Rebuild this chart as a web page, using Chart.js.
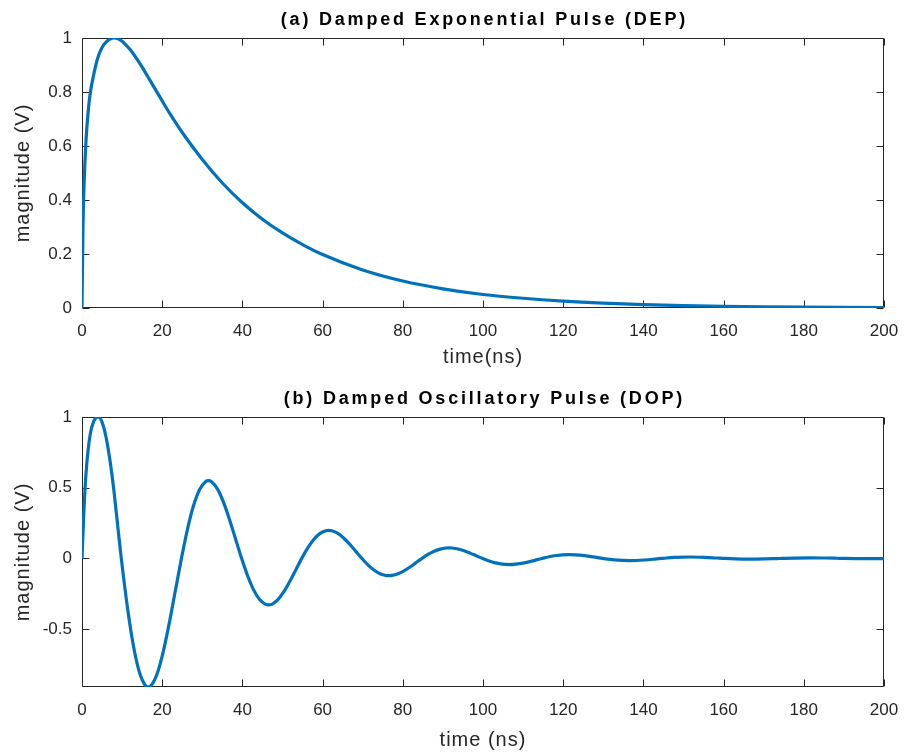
<!DOCTYPE html>
<html>
<head>
<meta charset="utf-8">
<script src="https://cdn.jsdelivr.net/npm/chart.js@4.4.0/dist/chart.umd.min.js"></script>
<style>
  body { margin: 0; background: #fff; }
  .panel { position: absolute; left: 0; width: 904px; }
  #panelA { top: 0; height: 379px; }
  #panelB { top: 379px; height: 374px; }
</style>
</head>
<body>
<div class="panel" id="panelA"><canvas id="dep"></canvas></div>
<div class="panel" id="panelB"><canvas id="dop"></canvas></div>
<script>
// tick labels
const xTicks = [0, 20, 40, 60, 80, 100, 120, 140, 160, 180, 200];
const yTicksA = [0, 0.2, 0.4, 0.6, 0.8, 1];
const yTicksB = [-0.5, 0, 0.5, 1];

// (a) Damped Exponential Pulse
const timeA = [0, 0.25, 0.5, 1, 1.5, 2, 3, 4, 5, 6, 7, 8, 9, 10, 11, 12, 13, 14, 15,
  16, 17, 18, 19, 20, 22, 25, 30, 35, 40, 45, 50, 55, 60, 70, 80, 90, 100, 110, 120,
  130, 140, 150, 160, 170, 180, 190, 200];
const magA = [0, 0.3, 0.45, 0.62, 0.72, 0.79, 0.87, 0.93, 0.965, 0.985, 0.996, 1.0,
  0.997, 0.988, 0.974, 0.957, 0.937, 0.915, 0.892, 0.867, 0.842, 0.817, 0.792, 0.767,
  0.718, 0.65, 0.55, 0.463, 0.39, 0.329, 0.278, 0.235, 0.198, 0.141, 0.1, 0.071, 0.05,
  0.036, 0.0255, 0.018, 0.0128, 0.0091, 0.0065, 0.0046, 0.0033, 0.0023, 0.0017];

// (b) Damped Oscillatory Pulse
const timeB = [0, 0.5, 1, 2, 3, 4, 5, 6, 7, 8, 9,
  9.8, 11.3, 12.8, 14.3, 15.8, 16.55, 17.3, 18.8, 20.3, 21.8, 23.3,
  24.8, 26.3, 27.8, 29.3, 30.8, 31.55, 32.3, 33.8, 35.3, 36.8, 38.3,
  39.8, 41.3, 42.8, 44.3, 45.8, 46.55, 47.3, 48.8, 50.3, 51.8, 53.3,
  54.8, 56.3, 57.8, 59.3, 60.8, 61.55, 62.3, 63.8, 65.3, 66.8, 68.3,
  69.8, 71.3, 72.8, 74.3, 75.8, 76.55, 77.3, 78.8, 80.3, 81.8, 83.3,
  84.8, 86.3, 87.8, 89.3, 90.8, 91.55, 92.3, 93.8, 95.3, 96.8, 98.3,
  99.8, 102.8, 106.55, 110.3, 113.3,
  114.8, 117.8, 121.55, 125.3, 128.3,
  129.8, 132.8, 136.55, 140.3, 143.3,
  144.8, 147.8, 151.55, 155.3, 158.3,
  159.8, 162.8, 166.55, 170.3, 173.3,
  174.8, 177.8, 181.55, 185.3, 188.3,
  189.8, 192.8, 196.55, 200];
const magB = [0, 0.35, 0.6, 0.87, 0.975, 1.0, 0.964, 0.857, 0.688, 0.469, 0.205,
  0, -0.34, -0.615, -0.804, -0.899, -0.91, -0.898, -0.811, -0.656, -0.453, -0.226,
  0, 0.2055, 0.3716, 0.4858, 0.5427, 0.5495, 0.5422, 0.4899, 0.3961, 0.2736, 0.1366,
  0, -0.1233, -0.223, -0.2915, -0.3256, -0.3297, -0.3253, -0.294, -0.2376, -0.1641, -0.0819,
  0, 0.074, 0.1338, 0.1749, 0.1954, 0.1978, 0.1952, 0.1764, 0.1426, 0.0985, 0.0492,
  0, -0.0458, -0.0828, -0.1083, -0.1209, -0.1225, -0.1208, -0.1092, -0.0883, -0.061, -0.0304,
  0, 0.0277, 0.0502, 0.0656, 0.0733, 0.0742, 0.0732, 0.0661, 0.0535, 0.0369, 0.0184,
  0, -0.03, -0.0444, -0.032, -0.011,
  0, 0.0183, 0.0271, 0.0195, 0.0067,
  0, -0.0109, -0.0161, -0.0116, -0.004,
  0, 0.0065, 0.0097, 0.007, 0.0024,
  0, -0.0039, -0.0058, -0.0042, -0.0014,
  0, 0.0023, 0.0035, 0.0025, 0.0009,
  0, -0.0014, -0.0021, -0.0016];

const lineColor = "#0072BD";
const axisColor = "#262626";
const tickFont = { family: "'Liberation Sans', Arial, sans-serif", size: 17 };
const labelFont = { family: "'Liberation Sans', Arial, sans-serif", size: 20 };

// box round the axes with inward ticks on all four sides, plus the panel title
const matlabAxes = {
  id: "matlabAxes",
  beforeDraw(chart) {
    chart.ctx.letterSpacing = "1px";
  },
  beforeDatasetsDraw(chart) {
    const { ctx, chartArea: a, scales } = chart;
    const l = Math.round(a.left) + 0.5;
    const r = Math.round(a.right) - 0.5;
    const t = Math.round(a.top) + 0.5;
    const b = Math.round(a.bottom) - 0.5;
    const len = 7;
    ctx.letterSpacing = "0px";
    ctx.save();
    ctx.strokeStyle = axisColor;
    ctx.lineWidth = 1;
    ctx.beginPath();
    scales.x.ticks.forEach((tk) => {
      const px = Math.round(scales.x.getPixelForValue(tk.value)) + 0.5;
      ctx.moveTo(px, b);
      ctx.lineTo(px, b - len);
      ctx.moveTo(px, t);
      ctx.lineTo(px, t + len);
    });
    scales.y.ticks.forEach((tk) => {
      const py = Math.round(scales.y.getPixelForValue(tk.value)) + 0.5;
      ctx.moveTo(l, py);
      ctx.lineTo(l + len, py);
      ctx.moveTo(r, py);
      ctx.lineTo(r - len, py);
    });
    ctx.rect(l, t, r - l, b - t);
    ctx.stroke();
    ctx.restore();
  },
  afterDraw(chart, args, opts) {
    const { ctx, chartArea: a } = chart;
    ctx.save();
    ctx.letterSpacing = "2.8px";
    ctx.font = "bold 18px 'Liberation Sans', Arial, sans-serif";
    ctx.fillStyle = "#000";
    ctx.textAlign = "center";
    ctx.textBaseline = "middle";
    ctx.fillText(opts.text, (a.left + a.right) / 2 + 1.4, 20);
    ctx.restore();
    ctx.letterSpacing = "0px";
  },
};

function makePanel(id, title, xLabel, times, values, yMin, yMax, yTicks, panelH, xPad) {
  return new Chart(document.getElementById(id), {
    type: "line",
    data: {
      datasets: [
        {
          data: times.map((t, i) => ({ x: t, y: values[i] })),
          borderColor: lineColor,
          borderWidth: 3.2,
          pointRadius: 0,
          fill: false,
          cubicInterpolationMode: "monotone",
        },
      ],
    },
    options: {
      responsive: true,
      maintainAspectRatio: false,
      animation: false,
      layout: { padding: { top: 38, right: 20, left: 0, bottom: 0 } },
      plugins: {
        legend: { display: false },
        tooltip: { enabled: false },
        matlabAxes: { text: title },
      },
      scales: {
        x: {
          type: "linear",
          min: 0,
          max: 200,
          grid: { display: false, drawTicks: false },
          border: { display: false },
          ticks: { color: axisColor, font: tickFont, padding: 13, maxRotation: 0, autoSkip: false, z: 1 },
          afterBuildTicks: (s) => { s.ticks = xTicks.map((v) => ({ value: v })); },
          title: { display: true, text: xLabel, color: axisColor, font: labelFont, padding: { top: 0, bottom: xPad } },
          afterFit: (s) => {
            s.height = panelH - 308;
            s.paddingLeft = 0;
            s.paddingRight = 0;
          },
        },
        y: {
          min: yMin,
          max: yMax,
          grid: { display: false, drawTicks: false },
          border: { display: false },
          ticks: { color: axisColor, font: tickFont, padding: 10, z: 1, callback: (v) => String(v) },
          afterBuildTicks: (s) => { s.ticks = yTicks.map((v) => ({ value: v })); },
          title: { display: true, text: "magnitude (V)", color: axisColor, font: labelFont, padding: { top: 11, bottom: 0 } },
          afterFit: (s) => { s.width = 82; },
        },
      },
    },
    plugins: [matlabAxes],
  });
}

makePanel("dep", "(a) Damped Exponential Pulse (DEP)", "time(ns)", timeA, magA, 0, 1, yTicksA, 379, 10);
makePanel("dop", "(b) Damped Oscillatory Pulse (DOP)", "time (ns)", timeB, magB, -0.91, 1, yTicksB, 374, 1);
</script>
</body>
</html>
